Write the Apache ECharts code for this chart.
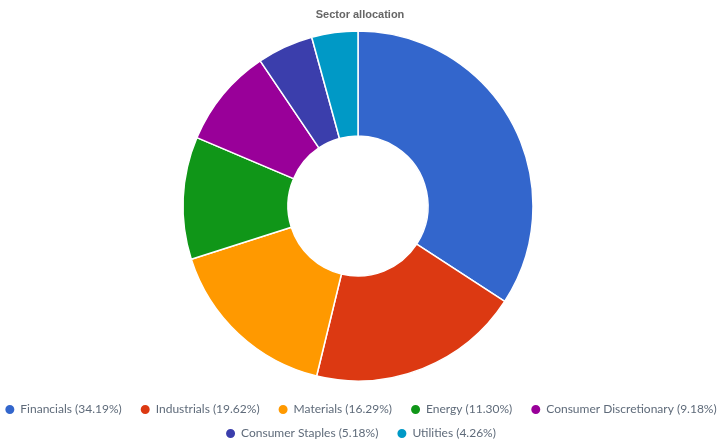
<!DOCTYPE html>
<html><head><meta charset="utf-8">
<script src="https://cdn.jsdelivr.net/npm/echarts@6/dist/echarts.min.js"></script>
<style>html,body{margin:0;padding:0;background:#fff}#c{width:720px;height:445px}</style>
</head><body><div id="c"></div>
<script>
const categories = ["Financials","Industrials","Materials","Energy","Consumer Discretionary","Consumer Staples","Utilities"];
const values = [34.19,19.62,16.29,11.30,9.18,5.18,4.26];
const colors = ["#3366cc","#dc3912","#ff9900","#109618","#990099","#3b3eac","#0099c6"];
const chart = echarts.init(document.getElementById('c'));
const labelMap = {};
categories.forEach((c,i)=>{labelMap[c]=c+' ('+values[i].toFixed(2)+'%)';});
const legendBase = {left:'center',width:800,padding:0,icon:'circle',itemWidth:11,itemHeight:11,itemGap:17,orient:'horizontal',
    textStyle:{fontFamily:'Lato',fontSize:12,color:'#5f6b7a'},
    formatter:n=>labelMap[n]};
chart.setOption({
  animation:false,
  color: colors,
  title:{text:'Sector allocation',left:'center',top:4,textStyle:{fontFamily:'Liberation Sans, Arial',fontSize:11,fontWeight:'bold',color:'#666'}},
  legend:[
    Object.assign({},legendBase,{top:403,data:categories.slice(0,5)}),
    Object.assign({},legendBase,{top:427,data:categories.slice(5)})
  ],
  series:[{type:'pie',center:[358,206],radius:[70,175],startAngle:90,clockwise:true,
    label:{show:false},labelLine:{show:false},
    itemStyle:{borderColor:'#fff',borderWidth:1.5},
    data:categories.map((c,i)=>({name:c,value:values[i]}))}]
});
</script></body></html>
